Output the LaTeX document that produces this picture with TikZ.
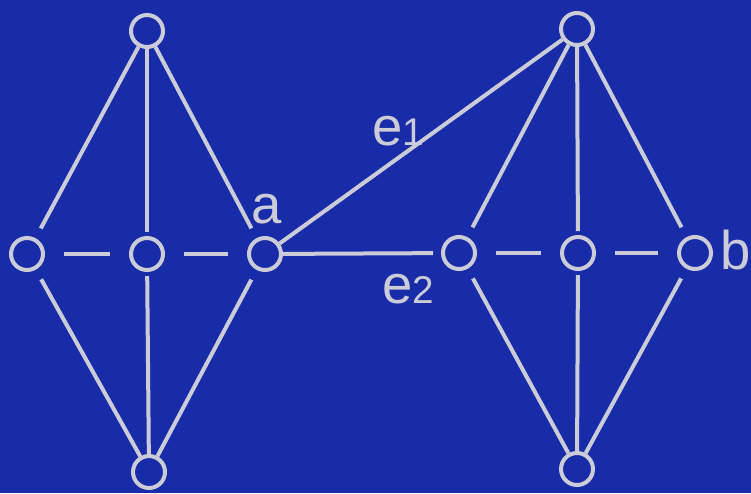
\documentclass[tikz,border=0pt]{standalone}
\usepackage{fontspec}
\setmainfont{Liberation Sans}
\definecolor{fondo}{RGB}{24,44,168}
\definecolor{trazo}{RGB}{204,204,216}
\begin{document}
\begin{tikzpicture}[
    vertex/.style={circle, draw=trazo, line width=0.04cm,
      minimum size=0.32cm, inner sep=0pt},
    edge/.style={draw=trazo, line width=0.04cm},
    lbl/.style={text=trazo, inner sep=0pt,
      font=\fontsize{15.5}{18}\selectfont},
    sub/.style={font=\fontsize{11}{12}\selectfont}
  ]
    \fill[fondo] (0,0) rectangle (7.51,4.93);
    \useasboundingbox (0,0) rectangle (7.51,4.93);

    % Vertices
    \node[vertex] (lt) at (1.47, 4.62) {};
    \node[vertex] (ll) at (0.27, 2.39) {};
    \node[vertex] (lm) at (1.47, 2.39) {};
    \node[vertex] (a)  at (2.65, 2.39) {};
    \node[vertex] (lb) at (1.49, 0.21) {};
    \node[vertex] (rt) at (5.77, 4.64) {};
    \node[vertex] (rl) at (4.59, 2.40) {};
    \node[vertex] (rm) at (5.78, 2.40) {};
    \node[vertex] (b)  at (6.95, 2.40) {};
    \node[vertex] (rb) at (5.77, 0.24) {};

    % Etiquetas
    \node[lbl] (la) at (2.67, 2.84) {a};
    \node[lbl] (lbb) at (7.36, 2.43) {b};
    \node[lbl] (le1) at (3.98, 3.62) {e{\fontsize{11}{12}\selectfont 1}};
    \node[lbl] (le2) at (4.08, 2.04) {e{\fontsize{11}{12}\selectfont 2}};

    % Aristas izquierda
    \draw[edge, shorten >=0.11cm] (lt) -- (ll);
    \draw[edge, shorten >=0.04cm] (lt) -- (lm);
    \draw[edge, shorten >=0.11cm] (lt) -- (a);
    \draw[edge, shorten >=0.11cm] (lb) -- (ll);
    \draw[edge, shorten >=0.04cm] (lb) -- (lm);
    \draw[edge, shorten >=0.11cm] (lb) -- (a);
    \draw[edge, shorten <=0.19cm, shorten >=0.19cm] (ll) -- (lm);
    \draw[edge, shorten <=0.19cm, shorten >=0.19cm] (lm) -- (a);

    % Puentes
    \draw[edge] (a) -- (rt);
    \draw[edge, shorten >=0.08cm] (a) -- (rl);

    % Aristas derecha
    \draw[edge, shorten >=0.11cm] (rt) -- (rl);
    \draw[edge, shorten >=0.04cm] (rt) -- (rm);
    \draw[edge, shorten >=0.11cm] (rt) -- (b);
    \draw[edge, shorten >=0.11cm] (rb) -- (rl);
    \draw[edge, shorten >=0.04cm] (rb) -- (rm);
    \draw[edge, shorten >=0.11cm] (rb) -- (b);
    \draw[edge, shorten <=0.19cm, shorten >=0.19cm] (rl) -- (rm);
    \draw[edge, shorten <=0.19cm, shorten >=0.19cm] (rm) -- (b);
  \end{tikzpicture}
\end{document}
